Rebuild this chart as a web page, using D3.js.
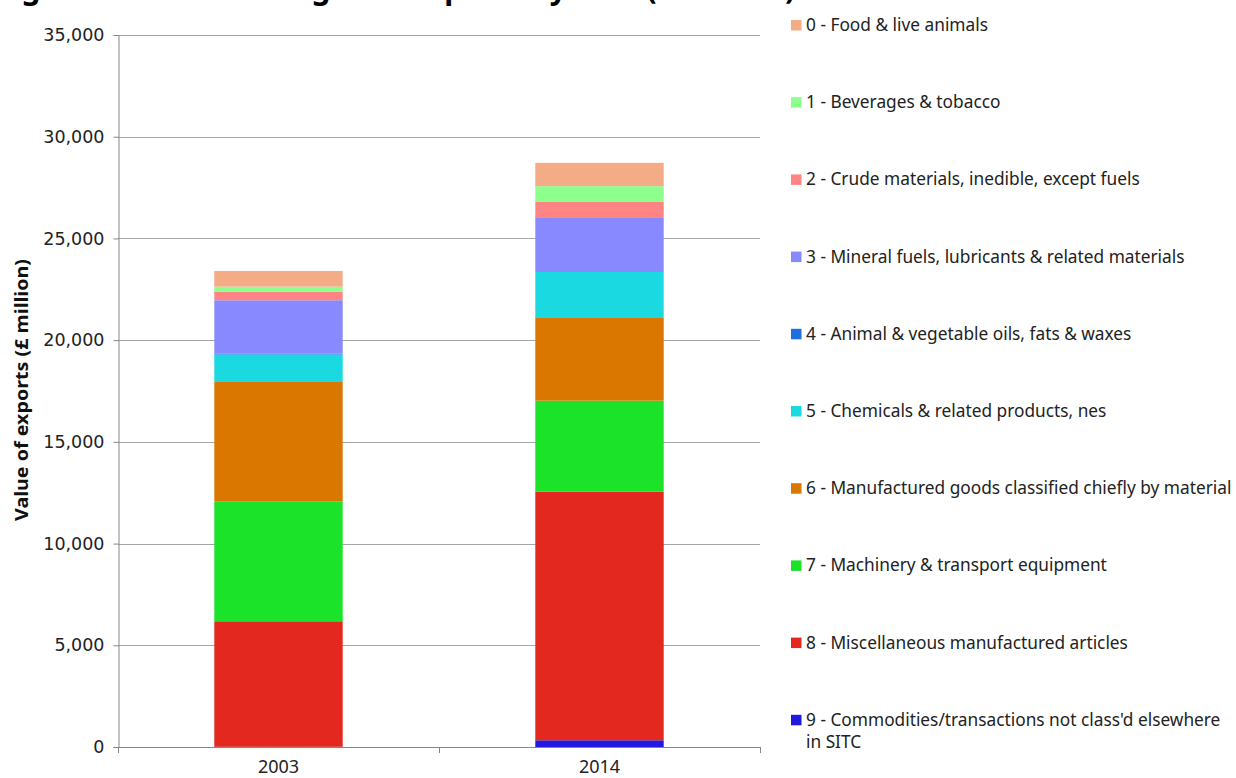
<!DOCTYPE html>
<meta charset="utf-8">
<style>
  body { margin: 0; background: #fff; }
  svg { display: block; }
</style>
<svg width="1236" height="778" font-family="'Noto Sans', sans-serif"></svg>
<script src="https://d3js.org/d3.v7.min.js"></script>
<script>

// years on the x axis
var years = ["2003", "2014"];

// SITC sections, bottom of the stack first
var sections = ["9", "8", "7", "6", "5", "4", "3", "2", "1", "0"];

var sectionNames = {
  "0": "0 - Food & live animals",
  "1": "1 - Beverages & tobacco",
  "2": "2 - Crude materials, inedible, except fuels",
  "3": "3 - Mineral fuels, lubricants & related materials",
  "4": "4 - Animal & vegetable oils, fats & waxes",
  "5": "5 - Chemicals & related products, nes",
  "6": "6 - Manufactured goods classified chiefly by material",
  "7": "7 - Machinery & transport equipment",
  "8": "8 - Miscellaneous manufactured articles",
  "9": "9 - Commodities/transactions not class'd elsewhere|in SITC"
};

var sectionColors = ["#2219e0", "#e3281f", "#1be32a", "#d97700", "#1bd9e1",
                     "#1e6fe0", "#8888ff", "#ff8585", "#8cff8c", "#f4ac87"];

// £ million
var values2003 = [10, 6170, 5900, 5865, 1350, 40, 2625, 423, 246, 771];
var values2014 = [330, 12220, 4475, 4065, 2270, 30, 2655, 767, 757, 1146];

var yTicks = [0, 5000, 10000, 15000, 20000, 25000, 30000, 35000];

var rows = years.map(function(y, i) {
  var vals = i === 0 ? values2003 : values2014;
  var r = {year: y};
  sections.forEach(function(s, j) { r[s] = vals[j]; });
  return r;
});

var svg = d3.select("svg");

var x = d3.scaleBand()
    .domain(years)
    .range([118, 760])
    .paddingInner(0.6)
    .paddingOuter(0.3);

var y = d3.scaleLinear()
    .domain([0, 35000])
    .range([747, 35]);

var color = d3.scaleOrdinal().domain(sections).range(sectionColors);

// title, mostly scrolled off the top
svg.append("text")
    .attr("x", -4)
    .attr("y", -1)
    .attr("font-size", 30)
    .attr("font-weight", "bold")
    .attr("fill", "#000")
    .text("Figure 9: Value of UK goods exports by SITC (£ million)");

// gridlines
svg.append("g")
    .selectAll("line")
    .data(yTicks)
    .join("line")
      .attr("x1", 118)
      .attr("x2", 760)
      .attr("y1", function(d) { return Math.round(y(d)) + 0.5; })
      .attr("y2", function(d) { return Math.round(y(d)) + 0.5; })
      .attr("stroke", "#a6a6a6")
      .attr("stroke-width", 1);

// stacked bars
var stack = d3.stack().keys(sections)(rows);

svg.append("g")
  .selectAll("g")
  .data(stack)
  .join("g")
    .attr("fill", function(d) { return color(d.key); })
  .selectAll("rect")
  .data(function(d) { return d; })
  .join("rect")
    .attr("x", function(d) { return x(d.data.year); })
    .attr("width", x.bandwidth())
    .attr("y", function(d) { return y(d[1]); })
    .attr("height", function(d) { return y(d[0]) - y(d[1]); });

// y axis
var yAxis = svg.append("g")
    .attr("transform", "translate(118.5,0)")
    .call(d3.axisLeft(y).tickValues(yTicks).tickSize(5).tickFormat(d3.format(",")));
yAxis.select(".domain").attr("stroke", "#868686");
yAxis.selectAll(".tick line").attr("stroke", "#868686");
yAxis.selectAll("text")
    .attr("font-size", 17.5)
    .attr("fill", "#222")
    .attr("font-family", "'DejaVu Sans', sans-serif")
    .attr("x", -14);

// x axis
var xAxis = svg.append("g")
    .attr("transform", "translate(0," + (y(0) + 0.5) + ")")
    .call(d3.axisBottom(x).tickSize(0));
xAxis.select(".domain").attr("stroke", "#868686").attr("d", "M118,0H760");
xAxis.selectAll(".tick text")
    .attr("font-size", 18)
    .attr("fill", "#222")
    .attr("font-family", "'Noto Sans', sans-serif")
    .attr("y", 0)
    .attr("dy", 25);
// dividers between categories
svg.append("g")
  .selectAll("line")
  .data([118, 439, 760])
  .join("line")
    .attr("x1", function(d) { return d + 0.5; })
    .attr("x2", function(d) { return d + 0.5; })
    .attr("y1", y(0))
    .attr("y2", y(0) + 6)
    .attr("stroke", "#868686");

// y axis title
svg.append("text")
    .attr("transform", "translate(28,390) rotate(-90)")
    .attr("text-anchor", "middle")
    .attr("font-size", 18)
    .attr("font-weight", "bold")
    .attr("font-family", "'Liberation Sans Narrow', 'Noto Sans', sans-serif")
    .attr("textLength", 262)
    .attr("lengthAdjust", "spacingAndGlyphs")
    .attr("fill", "#111")
    .text("Value of exports (£ million)");

// legend, section 0 on top
var legendOrder = sections.slice().reverse();
var legend = svg.append("g")
  .selectAll("g")
  .data(legendOrder)
  .join("g")
    .attr("transform", function(d, i) { return "translate(791," + (25 + i * 77.2) + ")"; });

legend.append("rect")
    .attr("y", -5)
    .attr("width", 10.5)
    .attr("height", 10.5)
    .attr("fill", function(d) { return color(d); });

legend.append("text")
    .attr("x", 15)
    .attr("font-size", 17.3)
    .attr("fill", "#222")
  .selectAll("tspan")
  .data(function(d) { return sectionNames[d].split("|"); })
  .join("tspan")
    .attr("x", 15)
    .attr("y", function(d, i) { return 6 + i * 22; })
    .text(function(d) { return d; });

</script>
